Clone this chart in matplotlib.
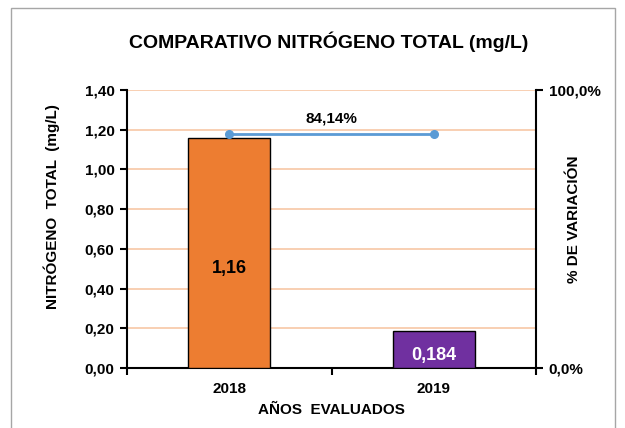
import matplotlib
matplotlib.use("Agg")
import matplotlib.pyplot as plt
from matplotlib.patches import Rectangle

# data
years = ["2018", "2019"]
nitrogen = [1.16, 0.184]
bar_labels = ["1,16", "0,184"]
variation = [84.14, 84.14]
variation_label = "84,14%"
y_ticks = [0.0, 0.2, 0.4, 0.6, 0.8, 1.0, 1.2, 1.4]

plt.rcParams["font.family"] = ["Liberation Sans", "DejaVu Sans"]
plt.rcParams["font.weight"] = "bold"

fig = plt.figure(figsize=(6.25, 4.28), dpi=100)
fig.patch.set_facecolor("white")

# outer chart border
fig.add_artist(Rectangle((11 / 625, -0.01), 604 / 625, 1 - 8 / 428 + 0.01,
                         transform=fig.transFigure, fill=False,
                         edgecolor="#a6a6a6", linewidth=1.0))

ax = fig.add_axes([127 / 625, 1 - 368 / 428, 409 / 625, 278 / 428])
x = [0, 1]
colors = ["#ED7D31", "#7030A0"]
ax.bar(x, nitrogen, width=0.40, color=colors, edgecolor="black", linewidth=1.0, zorder=3)

ax.set_xlim(-0.5, 1.5)
ax.set_ylim(0, 1.4)
ax.set_yticks(y_ticks)
ax.set_yticklabels([f"{v:.2f}".replace(".", ",") for v in y_ticks], fontsize=11, fontweight="bold")
ax.set_xticks(x)
ax.set_xticklabels(years, fontsize=11, fontweight="bold")
ax.tick_params(axis="x", length=0, pad=10)
ax.set_xticks([-0.5, 0.5, 1.5], minor=True)
ax.tick_params(axis="x", which="minor", length=5, width=1.5, direction="out")
ax.tick_params(axis="y", length=5, width=1.5, direction="out", pad=4)
ax.grid(axis="y", color="#F8CBAD", linewidth=1.3, zorder=0)

for s in ["top", "right"]:
    ax.spines[s].set_visible(False)
ax.spines["left"].set_linewidth(1.5)
ax.spines["bottom"].set_linewidth(1.5)

ax.set_ylabel("NITRÓGENO  TOTAL  (mg/L)", fontsize=11, fontweight="bold")
ax.yaxis.set_label_coords(-0.165, 0.58)
ax.set_xlabel("AÑOS  EVALUADOS", fontsize=11, fontweight="bold", labelpad=5)

# value labels in bars
ax.text(0, nitrogen[0] * 0.43, bar_labels[0], ha="center", va="center",
        fontsize=13, fontweight="bold", color="black", zorder=4)
ax.text(1, nitrogen[1] * 0.35, bar_labels[1], ha="center", va="center",
        fontsize=13, fontweight="bold", color="white", zorder=4)

# secondary axis
ax2 = ax.twinx()
ax2.set_ylim(0, 100)
ax2.plot(x, variation, "-o", color="#5B9BD5", linewidth=2, markersize=5.5, zorder=5)
ax2.text(0.5, variation[0] + 3, variation_label, ha="center", va="bottom",
         fontsize=11, fontweight="bold")
ax2.set_yticks([0, 100])
ax2.set_yticklabels(["0,0%", "100,0%"], fontsize=11, fontweight="bold")
ax2.tick_params(axis="y", length=5, width=1.5, direction="out", pad=4)
for s in ["top", "left", "bottom"]:
    ax2.spines[s].set_visible(False)
ax2.spines["right"].set_linewidth(1.5)
ax2.set_ylabel("% DE VARIACIÓN", fontsize=11, fontweight="bold")
ax2.yaxis.set_label_coords(1.076, 0.536)

fig.text(328.5 / 625, 1 - 42 / 428, "COMPARATIVO NITRÓGENO TOTAL (mg/L)",
         ha="center", va="center", fontsize=14, fontweight="bold")

fig.savefig("out.png", dpi=100)
